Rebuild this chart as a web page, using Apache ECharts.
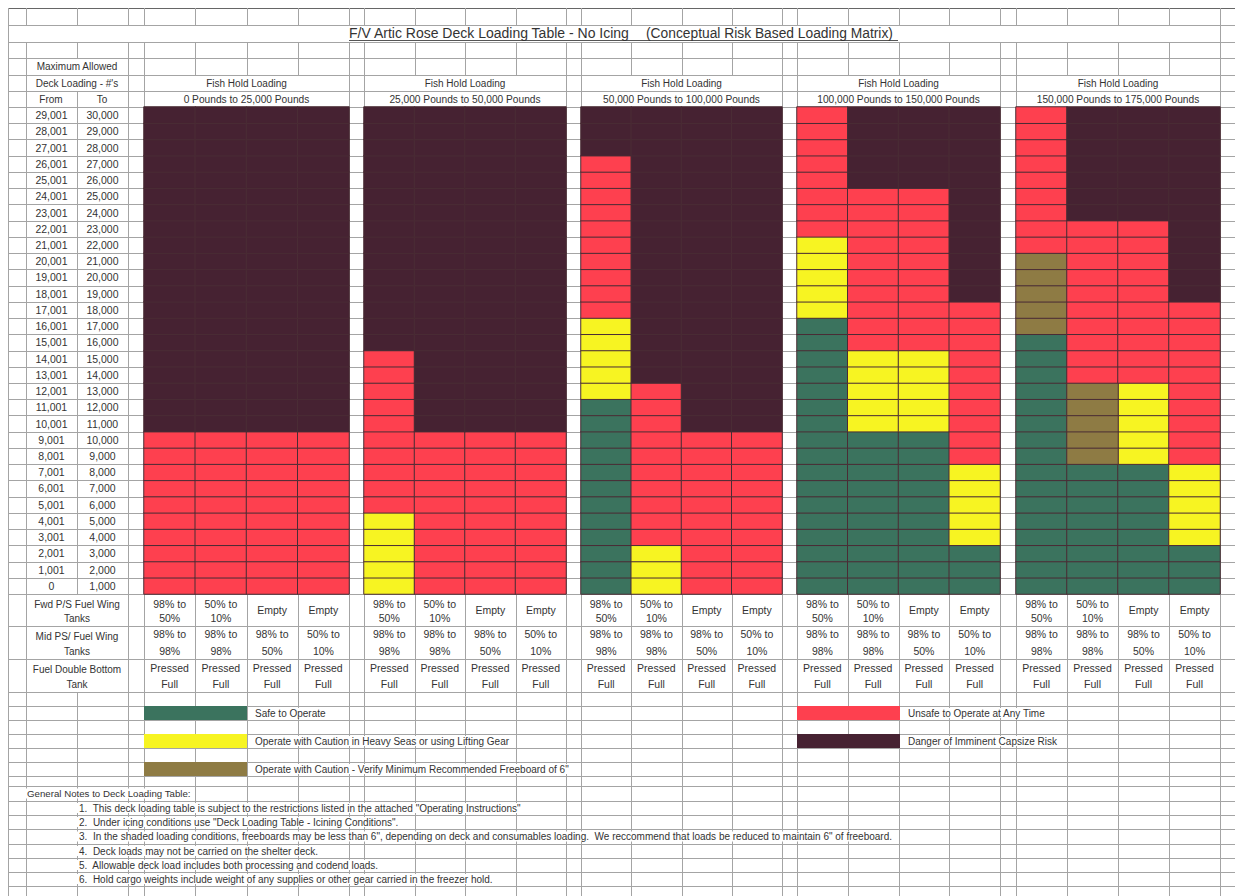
<!DOCTYPE html>
<html><head><meta charset="utf-8">
<script src="https://cdn.jsdelivr.net/npm/echarts@6/dist/echarts.min.js"></script>
<style>html,body{margin:0;padding:0;background:#fff}#c{width:1235px;height:896px}</style>
</head><body><div id="c"></div>
<script>
// ---------------- DATA ----------------
const titleMain = 'F/V Artic Rose Deck Loading Table - No Icing';
const titleSub = '(Conceptual Risk Based Loading Matrix)';
const fromLabels = ['0','1,001','2,001','3,001','4,001','5,001','6,001','7,001','8,001','9,001','10,001','11,001','12,001','13,001','14,001','15,001','16,001','17,001','18,001','19,001','20,001','21,001','22,001','23,001','24,001','25,001','26,001','27,001','28,001','29,001'];
const toLabels = ['1,000','2,000','3,000','4,000','5,000','6,000','7,000','8,000','9,000','10,000','11,000','12,000','13,000','14,000','15,000','16,000','17,000','18,000','19,000','20,000','21,000','22,000','23,000','24,000','25,000','26,000','27,000','28,000','29,000','30,000'];
const groupHeader = 'Fish Hold Loading';
const groupRanges = ['0 Pounds to 25,000 Pounds','25,000 Pounds to 50,000 Pounds','50,000 Pounds to 100,000 Pounds','100,000 Pounds to 150,000 Pounds','150,000 Pounds to 175,000 Pounds'];
const fwdTanks = [['98% to','50%'],['50% to','10%'],['Empty'],['Empty']];
const midTanks = [['98% to','98%'],['98% to','98%'],['98% to','50%'],['50% to','10%']];
const bottomTank = [['Pressed','Full'],['Pressed','Full'],['Pressed','Full'],['Pressed','Full']];
const riskNames = ['Safe to Operate','Operate with Caution in Heavy Seas or using Lifting Gear','Operate with Caution - Verify Minimum Recommended Freeboard of 6"','Unsafe to Operate at Any Time','Danger of Imminent Capsize Risk'];
const riskCodes = ['G','Y','B','R','D'];
const riskColors = ['#3b735e','#f7f422','#8e7b44','#fe404f','#462232'];
// one letter per 1,000 lb deck-load row, bottom row (0 - 1,000) first
const group1 = ['RRRRRRRRRR DDDDDDDDDD DDDDDDDDDD','RRRRRRRRRR DDDDDDDDDD DDDDDDDDDD','RRRRRRRRRR DDDDDDDDDD DDDDDDDDDD','RRRRRRRRRR DDDDDDDDDD DDDDDDDDDD'];
const group2 = ['YYYYYRRRRR RRRRRDDDDD DDDDDDDDDD','RRRRRRRRRR DDDDDDDDDD DDDDDDDDDD','RRRRRRRRRR DDDDDDDDDD DDDDDDDDDD','RRRRRRRRRR DDDDDDDDDD DDDDDDDDDD'];
const group3 = ['GGGGGGGGGG GGYYYYYRRR RRRRRRRDDD','YYYRRRRRRR RRRDDDDDDD DDDDDDDDDD','RRRRRRRRRR DDDDDDDDDD DDDDDDDDDD','RRRRRRRRRR DDDDDDDDDD DDDDDDDDDD'];
const group4 = ['GGGGGGGGGG GGGGGGGYYY YYRRRRRRRR','GGGGGGGGGG YYYYYRRRRR RRRRRDDDDD','GGGGGGGGGG YYYYYRRRRR RRRRRDDDDD','GGGYYYYYRR RRRRRRRRDD DDDDDDDDDD'];
const group5 = ['GGGGGGGGGG GGGGGGBBBB BRRRRRRRRR','GGGGGGGGBB BBBRRRRRRR RRRDDDDDDD','GGGGGGGGYY YYYRRRRRRR RRRDDDDDDD','GGGYYYYYRR RRRRRRRRDD DDDDDDDDDD'];
const groups = [group1, group2, group3, group4, group5];
const generalNotesTitle = 'General Notes to Deck Loading Table:';
const notes = [
 '1.  This deck loading table is subject to the restrictions listed in the attached "Operating Instructions"',
 '2.  Under icing conditions use "Deck Loading Table - Icining Conditions".',
 '3.  In the shaded loading conditions, freeboards may be less than 6", depending on deck and consumables loading.  We reccommend that loads be reduced to maintain 6" of freeboard.',
 '4.  Deck loads may not be carried on the shelter deck.',
 '5.  Allowable deck load includes both processing and codend loads.',
 '6.  Hold cargo weights include weight of any supplies or other gear carried in the freezer hold.'
];

// ---------------- LAYOUT ----------------
const FONT = '"Liberation Sans", Arial, sans-serif';
const TXT = '#333';
const TOP = 107, GH = 487;
const gridLeft = [144, 364, 581, 797, 1016];
const gridW = [205, 202, 201, 203, 204];
const leftCols = [8, 26, 77, 128];
const RIGHT = 1235;

const chart = echarts.init(document.getElementById('c'), null, {renderer: 'svg', width: 1235, height: 896});

function tankLabel(i) {
  const parts = [];
  [fwdTanks[i], midTanks[i], bottomTank[i]].forEach((b, bi) => {
    if (b.length === 1) parts.push('{s' + bi + '|' + b[0] + '}');
    else { parts.push('{a' + bi + '|' + b[0] + '}'); parts.push('{b' + bi + '|' + b[1] + '}'); }
  });
  return parts.join('\n');
}
const tf = {fontSize: 10.5, fontFamily: FONT, color: TXT};
const RICH = {
  a0: Object.assign({lineHeight: 16}, tf), b0: Object.assign({lineHeight: 12}, tf), s0: Object.assign({lineHeight: 28}, tf),
  a1: Object.assign({lineHeight: 20}, tf), b1: Object.assign({lineHeight: 14}, tf), s1: Object.assign({lineHeight: 34}, tf),
  a2: Object.assign({lineHeight: 20}, tf), b2: Object.assign({lineHeight: 12}, tf), s2: Object.assign({lineHeight: 32}, tf)
};

const grids = [], xAxes = [], yAxes = [], series = [];
groups.forEach((cols, g) => {
  grids.push({left: gridLeft[g], top: TOP, width: gridW[g], height: GH, containLabel: false, outerBoundsMode: 'none'});
  xAxes.push({type: 'category', gridIndex: g, data: cols.map((c, i) => String(i)),
    axisLine: {show: false}, axisTick: {show: false}, splitLine: {show: false},
    axisLabel: {interval: 0, margin: 2, formatter: (v, i) => tankLabel(i), rich: RICH}});
  yAxes.push({type: 'category', gridIndex: g, data: fromLabels.map((f, i) => String(i)), show: g === 0,
    axisLine: {show: false}, axisTick: {show: false}, splitLine: {show: false},
    axisLabel: {interval: 0, margin: 16, formatter: (v, i) => '{f|' + fromLabels[i] + '}{t|' + toLabels[i] + '}',
      rich: {f: {width: 51, align: 'center', fontSize: 10.5, fontFamily: FONT, color: TXT},
             t: {width: 51, align: 'center', fontSize: 10.5, fontFamily: FONT, color: TXT}}}});
  riskCodes.forEach((code, k) => {
    const data = [];
    cols.forEach((col, ci) => {
      const s = col.replace(/ /g, '');
      for (let r = 0; r < s.length; r++) if (s[r] === code) data.push([ci, r, k]);
    });
    series.push({type: 'heatmap', name: riskNames[k], xAxisIndex: g, yAxisIndex: g, data: data,
      itemStyle: {color: riskColors[k], borderColor: '#4a2c35', borderWidth: 1},
      emphasis: {disabled: true}, silent: true, z: 2});
  });
});

// ---------------- spreadsheet grid lines & texts ----------------
const gfx = [];
const LC = '#a4a4a4';
function hl(y, x1, x2, c) { gfx.push({type: 'line', silent: true, z: 0, shape: {x1: x1, y1: Math.round(y) + 0.5, x2: x2, y2: Math.round(y) + 0.5}, style: {stroke: c || LC, lineWidth: 1}}); }
function vl(x, y1, y2, c) { gfx.push({type: 'line', silent: true, z: 0, shape: {x1: Math.round(x) + 0.5, y1: y1, x2: Math.round(x) + 0.5, y2: y2}, style: {stroke: c || LC, lineWidth: 1}}); }
function tx(t, x, y, size, align, bg) {
  const st = {text: t, fill: TXT, fontSize: size, fontFamily: FONT, align: align || 'left', verticalAlign: 'middle'};
  if (bg) { st.backgroundColor = '#fff'; st.padding = [0, 2, 0, 2]; }
  gfx.push({type: 'text', silent: true, z: 10, x: x, y: y, style: st});
}

const allCols = leftCols.slice();
const edgeCols = [8, 26, 128];
gridLeft.forEach((l, g) => {
  for (let i = 0; i <= 4; i++) allCols.push(l + i * gridW[g] / 4);
  edgeCols.push(l, l + gridW[g]);
});
const rowH = GH / 30;
// horizontal
[8, 25, 42, 58, 75, 91].forEach(y => hl(y, 8, RIGHT, y === 8 ? '#666' : LC));
for (let k = 0; k <= 30; k++) hl(TOP + k * rowH, 8, RIGHT);
[626, 659, 692, 706, 720, 734, 748, 762, 776, 786, 801, 815, 829, 844, 858, 872, 886].forEach(y => hl(y, 8, RIGHT));
// vertical
allCols.forEach(x => { vl(x, 8, 25); vl(x, 42, 58); vl(x, 692, 896); });
vl(8, 25, 42); vl(1220, 25, 42);
allCols.filter(x => x !== 77).forEach(x => vl(x, 58, 75));
edgeCols.forEach(x => vl(x, 75, 107));
vl(77, 91, 107);
edgeCols.concat([77]).forEach(x => vl(x, 107, 594));
allCols.filter(x => x !== 77).forEach(x => vl(x, 594, 692));

// title
tx(titleMain, 349, 33, 14, 'left');
tx(titleSub, 646, 33, 13.8, 'left');
hl(40, 349, 898, '#555');
// left headers
tx('Maximum Allowed', 77, 66.5, 10, 'center');
tx("Deck Loading - #'s", 77, 83, 10, 'center');
tx('From', 51, 99.5, 10, 'center');
tx('To', 102, 99.5, 10, 'center');
// group headers
gridLeft.forEach((l, g) => {
  tx(groupHeader, l + gridW[g] / 2, 83, 10, 'center');
  tx(groupRanges[g], l + gridW[g] / 2, 99.5, 10.2, 'center');
});
// fuel row labels
tx('Fwd P/S Fuel Wing', 77, 604, 10, 'center'); tx('Tanks', 77, 618, 10, 'center');
tx('Mid PS/ Fuel Wing', 77, 636, 10, 'center'); tx('Tanks', 77, 651, 10, 'center');
tx('Fuel Double Bottom', 77, 669, 10, 'center'); tx('Tank', 77, 684, 10, 'center');
// notes
tx(generalNotesTitle, 25, 793.5, 9.7, 'left', true);
[808, 822, 836.5, 851, 865, 879].forEach((y, i) => tx(notes[i], 77, y, 10, 'left', true));

const legendCommon = {orient: 'vertical', icon: 'rect', itemWidth: 103, itemHeight: 14, itemGap: 14, padding: 0,
  selectedMode: false, itemStyle: {borderWidth: 0},
  textStyle: {fontSize: 10, fontFamily: FONT, color: TXT, backgroundColor: '#fff', padding: [0, 2, 0, 3]}};

chart.setOption({
  animation: false,
  backgroundColor: '#fff',
  grid: grids, xAxis: xAxes, yAxis: yAxes, series: series,
  legend: [
    Object.assign({left: 144, top: 706, data: riskNames.slice(0, 3)}, legendCommon),
    Object.assign({left: 797, top: 706, data: riskNames.slice(3)}, legendCommon)
  ],
  graphic: {elements: gfx}
});
</script></body></html>
